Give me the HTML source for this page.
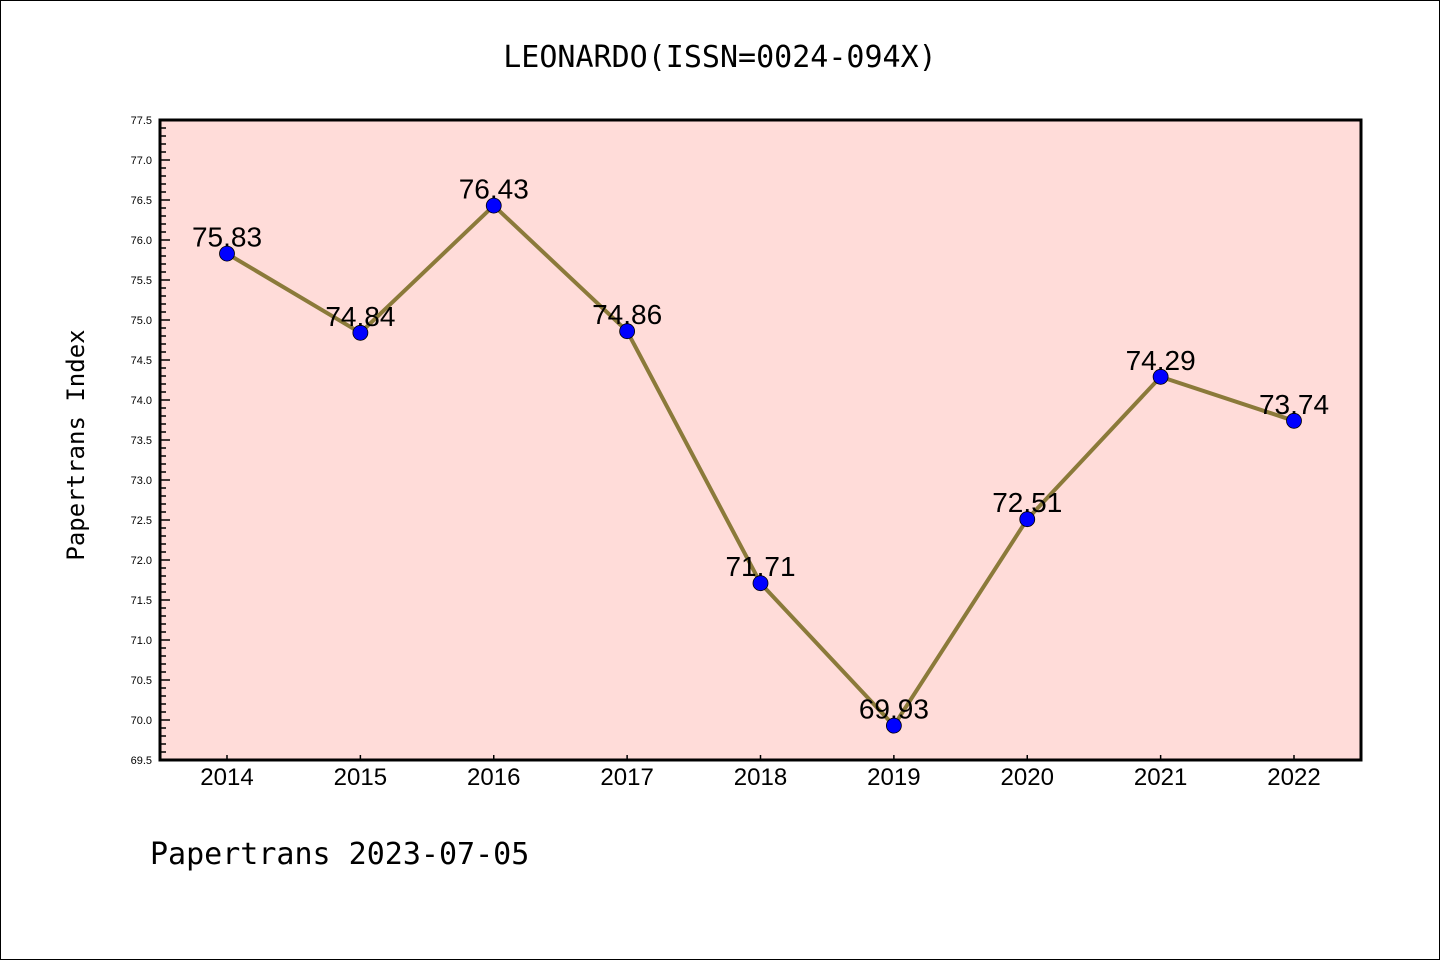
<!DOCTYPE html>
<html><head><meta charset="utf-8"><style>
body{margin:0;background:#fff}
svg{display:block;font-family:"Liberation Sans","DejaVu Sans",sans-serif}
</style></head><body>
<svg width="1440" height="960">
<rect x="0.5" y="0.5" width="1439" height="959" fill="#fff" stroke="#000"/>
<text x="720" y="67" text-anchor="middle" font-size="30" font-family="DejaVu Sans Mono, Liberation Mono, monospace">LEONARDO(ISSN=0024-094X)</text>
<rect x="160" y="120" width="1201" height="640" fill="#ffdcd9"/>
<g id="yaxis"></g>
<g id="xaxis"></g>
<g id="series"></g>
<rect x="160" y="120" width="1201" height="640" fill="none" stroke="#000" stroke-width="3"/>
<text transform="translate(84,445) rotate(-90)" text-anchor="middle" font-size="24" font-family="DejaVu Sans Mono, Liberation Mono, monospace">Papertrans Index</text>
<text x="150" y="864" font-size="30" font-family="DejaVu Sans Mono, Liberation Mono, monospace">Papertrans 2023-07-05</text>
</svg>
<script>
const years=[2014,2015,2016,2017,2018,2019,2020,2021,2022];
const values=[75.83,74.84,76.43,74.86,71.71,69.93,72.51,74.29,73.74];
const labels=["75.83","74.84","76.43","74.86","71.71","69.93","72.51","74.29","73.74"];
const yTicks=["69.5","70.0","70.5","71.0","71.5","72.0","72.5","73.0","73.5","74.0","74.5","75.0","75.5","76.0","76.5","77.0","77.5"];
const NS="http://www.w3.org/2000/svg";
const yMin=69.5,yMax=77.5,yTop=120,yBot=760,xLeft=160;
const yS=v=>yBot-(v-yMin)/(yMax-yMin)*(yBot-yTop);
const xS=i=>227+i*(1294-227)/(years.length-1);
function mk(t,a,p){const e=document.createElementNS(NS,t);for(const k in a)e.setAttribute(k,a[k]);p.appendChild(e);return e;}
const ya=document.getElementById('yaxis'),xa=document.getElementById('xaxis'),sg=document.getElementById('series');
for(let k=0;k<=80;k++){const v=yMin+k*0.1;const major=k%5===0;
 const l=mk('line',{x1:xLeft,x2:xLeft+(major?10:6),y1:yS(v),y2:yS(v),stroke:'#000','stroke-width':1.5},ya);
 
 }
yTicks.forEach(t=>{const e=mk('text',{x:152,y:yS(parseFloat(t))+4,'text-anchor':'end','font-size':11},ya);e.textContent=t;
 
 });
years.forEach((yr,i)=>{const l=mk('line',{x1:xS(i),x2:xS(i),y1:yBot,y2:yBot-5,stroke:'#000','stroke-width':1.5},xa);
 
 
 const t=mk('text',{x:xS(i),y:785,'text-anchor':'middle','font-size':24},xa);t.textContent=yr;
 
 });
const pl=mk('polyline',{points:values.map((v,i)=>xS(i)+','+yS(v)).join(' '),fill:'none',stroke:'#8b7a3a','stroke-width':4},sg);


values.forEach((v,i)=>{const c=mk('circle',{cx:xS(i),cy:yS(v),r:7.5,fill:'#0000ff',stroke:'#000','stroke-width':0.8},sg);
 
 
 const t=mk('text',{x:xS(i),y:yS(v)-7,'text-anchor':'middle','font-size':28},sg);t.textContent=labels[i];
 
 });
</script>
</body></html>
